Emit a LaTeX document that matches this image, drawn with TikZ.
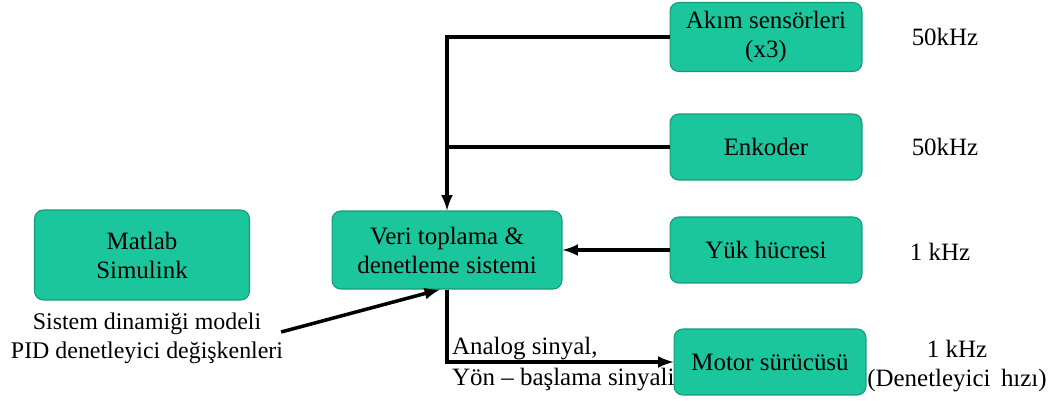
\documentclass[tikz,border=0pt]{standalone}
\usepackage{fontspec}
\setmainfont{Liberation Serif}
\usepackage{xcolor}
\usetikzlibrary{arrows,positioning,calc}
\definecolor{boxfill}{HTML}{1CC69C}
\definecolor{boxline}{HTML}{15997A}

\begin{document}
\begin{tikzpicture}[
    x=0.02cm, y=-0.02cm,
    every node/.style={font=\fontsize{14.2}{16.5}\selectfont},
    box/.style={rectangle, rounded corners=5pt, draw=boxline, fill=boxfill, line width=0.6pt, minimum width=3.84cm, minimum height=1.32cm, align=center},
    lbl/.style={align=center, inner sep=1pt},
    arrow/.style={-latex, line width=2pt},
    link/.style={line width=2pt}
]
\useasboundingbox (0,0) rectangle (1051,401);

\node[box, minimum width=4.3cm, minimum height=1.8cm] (matlab) at (142,255) {Matlab\\Simulink};
\node[box, minimum width=4.6cm, minimum height=1.56cm] (veri) at (447,250) {Veri toplama \&\\denetleme sistemi};
\node[box, minimum height=1.38cm] (akim) at (766,37) {Akım sensörleri\\(x3)};
\node[box] (enkoder) at (766,147) {Enkoder};
\node[box] (yuk) at (766,250) {Yük hücresi};
\node[box] (motor) at (770,362) {Motor sürücüsü};

% frekanslar
\node[lbl] (f1) at (945,37) {50kHz};
\node[lbl] (f2) at (945,147) {50kHz};
\node[lbl] (f3) at (940,252) {1 kHz};
\node[lbl] (f4) at (957,366) {1 kHz\\(Denetleyici\ \,hızı)};

\node[lbl, font=\fontsize{13.6}{16.5}\selectfont] (model) at (147,338) {Sistem dinamiği modeli\\PID denetleyici değişkenleri};
\node[lbl, anchor=west] (analog) at (450,349) {Analog sinyal,};
\node[lbl, anchor=west] (yon) at (450,380) {Yön -- başlama sinyali};

\draw[arrow] (akim.west) -| (veri.north);
\draw[link] (enkoder.west) -- (enkoder.west -| veri.north);
\draw[arrow] (yuk.west) -- (veri.east);
\draw[arrow] (veri.south) |- (motor.west);
\draw[arrow] ($(model.east)+(-4,-6)$) -- ($(veri.south)+(-7,0)$);
\end{tikzpicture}
\end{document}
